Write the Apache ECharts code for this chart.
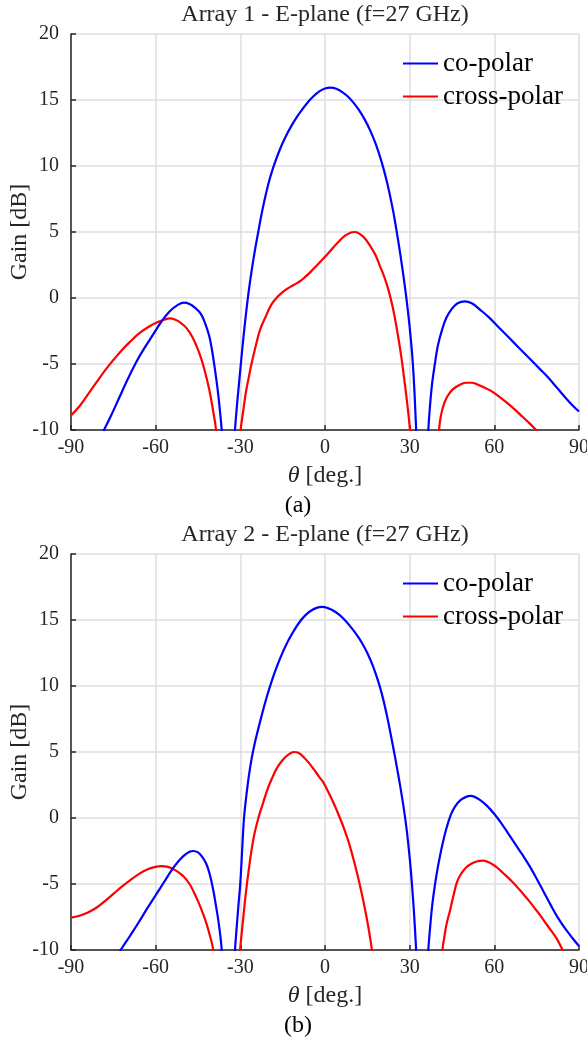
<!DOCTYPE html>
<html><head><meta charset="utf-8">
<script src="https://cdn.jsdelivr.net/npm/echarts@6/dist/echarts.min.js"></script>
<style>html,body{margin:0;padding:0;background:#fff}#c{width:587px;height:1043px}</style>
</head><body><div id="c"></div>
<script>
const titles = ['Array 1 - E-plane (f=27 GHz)', 'Array 2 - E-plane (f=27 GHz)'];
const captions = ['(a)', '(b)'];
const seriesNames = ['co-polar', 'cross-polar'];
const xTicks = [-90, -60, -30, 0, 30, 60, 90];
const yTicks = [-10, -5, 0, 5, 10, 15, 20];

// [theta (deg), gain (dB)] ; null = pattern null (gap)
const array1Co = [
  [-80,-10.8],[-78.3,-10],[-76,-9.0],[-73,-7.6],[-70,-6.2],[-67,-4.9],[-64,-3.8],[-61,-2.8],[-58,-1.8],[-55,-1.0],[-52,-0.5],[-50,-0.35],[-48,-0.45],[-46,-0.75],[-44,-1.2],[-42.5,-1.9],[-41,-2.9],[-40,-4.0],[-39,-5.4],[-38,-7.0],[-37.2,-8.6],[-36.6,-10],[-36.3,-11.2],[-34,null],
  [-32.2,-11.2],[-31.9,-10],[-31.3,-8.4],[-30.7,-7.0],[-30,-5.4],[-29,-3.2],[-28,-1.2],[-27,0.55],[-26,2.05],[-25,3.4],[-24,4.6],[-22,6.85],[-20,8.7],[-18,10.1],[-16,11.25],[-14,12.2],[-12,13.0],[-10,13.7],[-8,14.3],[-6,14.85],[-4,15.3],[-2,15.65],[0,15.87],[2,15.93],[4,15.85],[6,15.62],[8,15.28],[10,14.82],[12,14.25],[14,13.55],[16,12.7],[18,11.65],[20,10.35],[22,8.75],[24,6.75],[25,5.55],[26,4.25],[27,2.85],[28,1.35],[29,-0.3],[30,-2.2],[31,-4.6],[31.7,-7.1],[32.3,-10],[32.6,-11.2],[34.5,null],
  [36.3,-11.2],[36.6,-10],[37.2,-8.2],[38,-6.4],[39,-4.9],[40,-3.6],[41.5,-2.4],[43,-1.5],[45,-0.8],[47,-0.4],[49.5,-0.25],[52,-0.4],[55,-0.9],[58,-1.45],[61,-2.1],[64,-2.75],[67,-3.4],[70,-4.05],[73,-4.7],[76,-5.35],[79,-6.0],[82,-6.75],[85,-7.5],[88,-8.2],[90,-8.6]
];
const array1Cross = [
  [-90,-8.9],[-87,-8.2],[-84,-7.3],[-81,-6.4],[-78,-5.5],[-75,-4.7],[-72,-3.95],[-69,-3.3],[-66,-2.7],[-63,-2.25],[-60,-1.9],[-57,-1.65],[-55,-1.55],[-53,-1.65],[-51,-1.9],[-49,-2.3],[-47,-2.95],[-45.5,-3.65],[-44,-4.5],[-42.5,-5.6],[-41,-6.95],[-39.8,-8.35],[-38.6,-10],[-38.3,-11.2],[-34,null],
  [-30.2,-11.2],[-29.9,-10],[-29,-8.6],[-28,-7.1],[-27,-6.0],[-26,-4.95],[-24.5,-3.6],[-23,-2.4],[-21,-1.4],[-19,-0.5],[-17,0.05],[-15,0.45],[-13,0.75],[-11,1.0],[-9,1.25],[-7,1.6],[-5,2.0],[-3,2.45],[-1,2.9],[1,3.35],[3,3.85],[5,4.3],[7,4.7],[9,4.95],[10.5,5.0],[12,4.9],[14,4.55],[16,3.95],[18,3.2],[19.5,2.4],[21,1.6],[22.5,0.6],[24,-0.7],[25.5,-2.4],[27,-4.4],[28.4,-6.7],[29.3,-8.3],[30.1,-10],[30.4,-11.2],[35,null],
  [40.1,-11.2],[40.4,-10],[41,-9.0],[41.9,-8.2],[43,-7.6],[44.5,-7.1],[46,-6.8],[48,-6.55],[50,-6.42],[52,-6.42],[54,-6.55],[56,-6.75],[58.5,-7.0],[61,-7.35],[64,-7.85],[67,-8.4],[70,-9.0],[72.5,-9.5],[74.8,-10],[77,-10.5]
];
const array2Co = [
  [-74,-10.6],[-72.4,-10],[-69,-8.9],[-66,-7.9],[-63,-6.85],[-60,-5.85],[-57,-4.85],[-54.5,-4.0],[-52,-3.3],[-50,-2.85],[-48,-2.55],[-46.7,-2.5],[-45,-2.6],[-43.5,-2.95],[-42,-3.5],[-40.8,-4.3],[-39.6,-5.45],[-38.6,-6.7],[-37.8,-7.75],[-37.1,-8.9],[-36.6,-10],[-36.3,-11.2],[-34,null],
  [-32.2,-11.2],[-31.9,-10],[-31.3,-8.3],[-30.7,-6.7],[-30,-4.9],[-29.3,-2.2],[-28.7,0],[-28,1.45],[-27,3.15],[-26,4.5],[-25,5.55],[-24,6.45],[-23,7.3],[-21,8.9],[-19,10.3],[-17,11.5],[-15,12.55],[-13,13.45],[-11,14.2],[-9,14.85],[-7,15.35],[-5,15.7],[-3,15.92],[-1,16.0],[1,15.9],[3,15.7],[5,15.4],[7,15.0],[9,14.5],[11,13.95],[13,13.3],[15,12.5],[17,11.5],[19,10.25],[20.5,9.1],[22,7.7],[23.5,6.1],[25,4.4],[26.5,2.6],[28,0.6],[29,-1.0],[30,-3.0],[30.8,-5.0],[31.6,-7.4],[32.3,-10],[32.6,-11.2],[34.5,null],
  [36.3,-11.2],[36.6,-10],[37.2,-8.4],[38,-6.6],[39,-5.0],[40,-3.7],[41.5,-2.1],[43,-0.8],[44.5,0.2],[46,0.85],[48,1.35],[50,1.6],[51.5,1.67],[53,1.6],[55,1.35],[57.5,0.9],[60,0.3],[62.5,-0.4],[65,-1.2],[67.5,-2.0],[70,-2.8],[72.5,-3.65],[75,-4.6],[77.5,-5.6],[80,-6.6],[82.5,-7.55],[85,-8.35],[87.5,-9.05],[90,-9.7]
];
const array2Cross = [
  [-90,-7.55],[-87,-7.4],[-84,-7.15],[-81,-6.8],[-78,-6.3],[-75,-5.75],[-72,-5.2],[-69,-4.7],[-66,-4.25],[-63,-3.9],[-60,-3.7],[-58,-3.64],[-56,-3.68],[-54,-3.85],[-52,-4.1],[-50,-4.45],[-48,-5.0],[-46.5,-5.6],[-45,-6.3],[-43.5,-7.1],[-42,-8.0],[-40.8,-8.9],[-39.6,-10],[-39.3,-11.2],[-35,null],
  [-30.4,-11.2],[-30.1,-10],[-29.5,-8.7],[-28.8,-7.2],[-28,-5.6],[-27,-3.9],[-26,-2.4],[-25,-1.2],[-23.6,0],[-22,1.1],[-20.5,2.1],[-19,2.9],[-17,3.8],[-15,4.4],[-13,4.8],[-11,5.0],[-9.5,4.95],[-8,4.7],[-6,4.25],[-4,3.7],[-2,3.1],[-0.6,2.7],[1,2.05],[3,1.15],[5.3,0.0],[7,-0.95],[8.5,-1.9],[10,-3.05],[11.5,-4.3],[13,-5.7],[14.3,-7.05],[15.5,-8.45],[16.6,-10],[16.9,-11.2],[30,null],
  [41.3,-11.2],[41.6,-10],[42.3,-9.0],[43,-8.1],[44.3,-7.0],[45.5,-5.9],[46.7,-4.9],[48,-4.3],[50,-3.75],[52,-3.45],[54,-3.28],[56,-3.23],[58,-3.35],[60,-3.6],[62,-3.95],[64,-4.35],[66,-4.75],[68,-5.2],[70,-5.7],[72,-6.2],[74,-6.75],[76,-7.3],[78,-7.9],[80,-8.5],[82,-9.1],[84.2,-10],[85.5,-10.6]
];

const panels = [
  {co: array1Co, cross: array1Cross},
  {co: array2Co, cross: array2Cross}
];

const FONT = "'Liberation Serif', 'Times New Roman', serif";
const DARK = '#262626';
const GRIDC = '#dedede';
const tops = [34, 554];
const PH = 396;

const grid = [], xAxis = [], yAxis = [], series = [], legend = [], graphic = [];
panels.forEach((p, i) => {
  grid.push({left: 71, top: tops[i], width: 508, height: PH, containLabel: false, outerBoundsMode: 'none'});
  xAxis.push({
    gridIndex: i, type: 'value', min: xTicks[0], max: xTicks[xTicks.length - 1],
    interval: xTicks[1] - xTicks[0],
    axisLine: {show: true, onZero: false, lineStyle: {color: DARK, width: 1.5}},
    axisTick: {show: true, inside: true, length: 5, lineStyle: {color: DARK, width: 1.5}},
    axisLabel: {fontFamily: FONT, fontSize: 20, color: DARK, margin: 8, showMinLabel: true, showMaxLabel: true, hideOverlap: false},
    splitLine: {show: true, lineStyle: {color: GRIDC, width: 1.5}},
    name: '{i|θ} [deg.]', nameLocation: 'middle', nameGap: 34, nameMoveOverlap: false,
    nameTextStyle: {fontFamily: FONT, fontSize: 24, color: DARK,
      rich: {i: {fontFamily: FONT, fontSize: 24, fontStyle: 'italic', color: DARK}}}
  });
  yAxis.push({
    gridIndex: i, type: 'value', min: yTicks[0], max: yTicks[yTicks.length - 1],
    interval: yTicks[1] - yTicks[0],
    axisLine: {show: true, onZero: false, lineStyle: {color: DARK, width: 1.5}},
    axisTick: {show: true, inside: true, length: 5, lineStyle: {color: DARK, width: 1.5}},
    axisLabel: {fontFamily: FONT, fontSize: 20, color: DARK, margin: 12, showMinLabel: true, showMaxLabel: true, hideOverlap: false},
    splitLine: {show: true, lineStyle: {color: GRIDC, width: 1.5}},
    name: 'Gain [dB]', nameLocation: 'middle', nameGap: 39, nameMoveOverlap: false,
    nameTextStyle: {fontFamily: FONT, fontSize: 24, color: DARK}
  });
  series.push({
    name: seriesNames[0], type: 'line', xAxisIndex: i, yAxisIndex: i, data: p.co,
    showSymbol: false, smooth: 0.4, connectNulls: false, clip: true,
    lineStyle: {color: '#0000ff', width: 2.2}, itemStyle: {color: '#0000ff'}, z: 3
  });
  series.push({
    name: seriesNames[1], type: 'line', xAxisIndex: i, yAxisIndex: i, data: p.cross,
    showSymbol: false, smooth: 0.4, connectNulls: false, clip: true,
    lineStyle: {color: '#ff0000', width: 2.2}, itemStyle: {color: '#ff0000'}, z: 2
  });
  legend.push({
    data: seriesNames, orient: 'vertical', left: 403, top: tops[i] + 16, padding: 0,
    icon: 'rect', itemWidth: 35, itemHeight: 2, itemGap: 6,
    textStyle: {fontFamily: FONT, fontSize: 27, color: '#000', lineHeight: 27},
    selectedMode: false
  });
  graphic.push({type: 'text', x: 325, y: tops[i] - 19,
    style: {text: titles[i], fontFamily: FONT, fontSize: 24, fill: DARK, align: 'center', verticalAlign: 'middle'}});
  graphic.push({type: 'text', x: 298, y: tops[i] + PH + 76,
    style: {text: captions[i], fontFamily: FONT, fontSize: 24, fill: '#000', align: 'center', verticalAlign: 'middle'}});
});

const chart = echarts.init(document.getElementById('c'), null, {renderer: 'canvas'});
chart.setOption({
  animation: false,
  backgroundColor: '#fff',
  grid, xAxis, yAxis, series, legend, graphic
});
</script>
</body></html>
